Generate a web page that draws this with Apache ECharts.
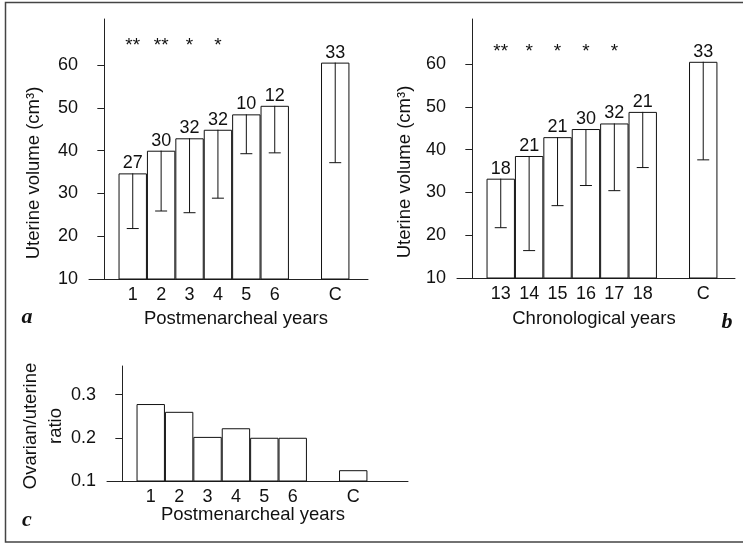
<!DOCTYPE html>
<html>
<head>
<meta charset="utf-8">
<script src="https://cdn.jsdelivr.net/npm/echarts@6/dist/echarts.min.js"></script>
<style>html,body{margin:0;padding:0;background:#fff}#c{width:743px;height:543px}</style>
</head>
<body>
<div id="c"></div>
<script>
// ---- data ----
const catsA = ['1', '2', '3', '4', '5', '6', 'C'];
const valsA = [34.7, 40.0, 42.9, 44.9, 48.5, 50.5, 60.6];
const lowA = [21.8, 25.9, 25.5, 28.9, 39.3, 39.5, 37.2];
const nA = ['27', '30', '32', '32', '10', '12', '33'];
const starsA = ['**', '**', '*', '*', '', '', ''];

const catsB = ['13', '14', '15', '16', '17', '18', 'C'];
const valsB = [33.2, 38.5, 42.9, 44.8, 46.1, 48.8, 60.5];
const lowB = [21.75, 16.4, 26.9, 31.6, 30.4, 35.8, 37.6];
const nB = ['18', '21', '21', '30', '32', '21', '33'];
const starsB = ['**', '*', '*', '*', '*', '', ''];

const catsC = ['1', '2', '3', '4', '5', '6', 'C'];
const valsC = [0.278, 0.26, 0.202, 0.222, 0.20, 0.20, 0.125];

const yTicksAB = [10, 20, 30, 40, 50, 60];
const yTicksC = [0.1, 0.2, 0.3];

// ---- layout ----
const C_POS = 8.13;           // control group sits after a gap
const slot = i => (i < 6 ? i + 1 : C_POS);
const X_MIN = -0.54;
const UNIT = 28.4;            // px per slot
const FONT = 'Liberation Sans, Arial, Helvetica, sans-serif';
const FS = 18;
const FT = 18.5;
const INK = '#111';
const STAR_A = 64.6, STAR_B = 62.8;

const grids = [
  { left: 89, top: 19, width: 279, height: 260 },
  { left: 457, top: 19, width: 278, height: 259 },
  { left: 107, top: 366, width: 301, height: 115 }
];

function xAxis(gi, cats) {
  const g = grids[gi];
  const pos = cats.map((c, i) => slot(i));
  return {
    type: 'value', gridIndex: gi, min: X_MIN, max: X_MIN + g.width / UNIT,
    axisLine: { show: true, onZero: false, lineStyle: { color: '#222', width: 1 } },
    axisTick: { show: false }, splitLine: { show: false },
    axisLabel: {
      customValues: pos, margin: 7, fontSize: FS, fontFamily: FONT, color: INK,
      formatter: v => { const i = pos.findIndex(p => Math.abs(p - v) < 1e-6); return i >= 0 ? cats[i] : ''; }
    }
  };
}
function yAxis(gi, min, max, ticks, fmt) {
  return {
    type: 'value', gridIndex: gi, min, max,
    axisLine: { show: true, lineStyle: { color: '#222', width: 1 } },
    axisTick: { show: true, length: 7, customValues: ticks, lineStyle: { color: '#222' } },
    splitLine: { show: false },
    axisLabel: { customValues: ticks, margin: 11, fontSize: FS, fontFamily: FONT, color: INK, formatter: fmt }
  };
}
function bars(gi, vals, labels) {
  return {
    type: 'bar', xAxisIndex: gi, yAxisIndex: gi, silent: true, z: 2,
    data: vals.map((v, i) => [slot(i), v]),
    barWidth: UNIT,
    itemStyle: { color: '#fff', borderColor: '#111', borderWidth: 1 },
    label: labels ? {
      show: true, position: 'top', distance: 1, fontSize: FS, fontFamily: FONT, color: INK,
      formatter: p => labels[p.dataIndex]
    } : { show: false }
  };
}
function errBars(gi, vals, lows) {
  return {
    type: 'custom', xAxisIndex: gi, yAxisIndex: gi, silent: true, z: 5, clip: false,
    data: vals.map((v, i) => [slot(i), v, lows[i]]),
    encode: { x: 0, y: [1, 2] },
    renderItem: (params, api) => {
      const x = api.value(0);
      const a = api.coord([x, api.value(1)]);
      const b = api.coord([x, api.value(2)]);
      const st = { stroke: '#111', lineWidth: 1, fill: null };
      return {
        type: 'group', children: [
          { type: 'line', shape: { x1: a[0], y1: a[1], x2: b[0], y2: b[1] }, style: st },
          { type: 'line', shape: { x1: b[0] - 6, y1: b[1], x2: b[0] + 6, y2: b[1] }, style: st }
        ]
      };
    }
  };
}
function stars(gi, marks, yLevel) {
  return {
    type: 'custom', xAxisIndex: gi, yAxisIndex: gi, silent: true, z: 5,
    data: marks.map((m, i) => [slot(i), yLevel]),
    renderItem: (params, api) => {
      const p = api.coord([api.value(0), api.value(1)]);
      return { type: 'text', x: p[0], y: p[1], style: { text: marks[params.dataIndex], fontSize: 19, fontFamily: FONT, fill: INK, align: 'center', verticalAlign: 'middle' } };
    }
  };
}
function txt(text, x, y, opts) {
  return { type: 'text', x, y, style: Object.assign({ text, fontSize: FT, fontFamily: FONT, fill: INK, align: 'center', verticalAlign: 'middle' }, opts || {}) };
}
const SERIF = { fontFamily: 'Liberation Serif, Times New Roman, serif', fontWeight: 'bold', fontStyle: 'italic', fontSize: 22 };

const chart = echarts.init(document.getElementById('c'), null, { renderer: 'canvas' });
chart.setOption({
  animation: false,
  backgroundColor: '#fff',
  grid: grids.map(g => Object.assign({ containLabel: false }, g)),
  xAxis: [xAxis(0, catsA), xAxis(1, catsB), xAxis(2, catsC)],
  yAxis: [
    yAxis(0, 10, 70.8, yTicksAB),
    yAxis(1, 10, 70.5, yTicksAB),
    yAxis(2, 0.1, 0.366, yTicksC, v => v.toFixed(1))
  ],
  series: [
    bars(0, valsA, nA), errBars(0, valsA, lowA), stars(0, starsA, STAR_A),
    bars(1, valsB, nB), errBars(1, valsB, lowB), stars(1, starsB, STAR_B),
    bars(2, valsC, null)
  ],
  graphic: [
    { type: 'polyline', shape: { points: [[743, 2.5], [5.5, 2.5], [5.5, 542], [743, 542]] }, style: { stroke: '#444', lineWidth: 1.5, fill: null } },
    txt('Postmenarcheal years', 236, 319),
    txt('Chronological years', 594, 319),
    txt('Postmenarcheal years', 253, 515),
    Object.assign(txt('Uterine volume (cm³)', 34, 173), { rotation: Math.PI / 2 }),
    Object.assign(txt('Uterine volume (cm³)', 405, 172), { rotation: Math.PI / 2 }),
    Object.assign(txt('Ovarian/uterine\nratio', 43, 426, { lineHeight: 25 }), { rotation: Math.PI / 2 }),
    txt('a', 27, 317, SERIF),
    txt('b', 727, 322, SERIF),
    txt('c', 27, 520, SERIF)
  ]
});
</script>
</body>
</html>
